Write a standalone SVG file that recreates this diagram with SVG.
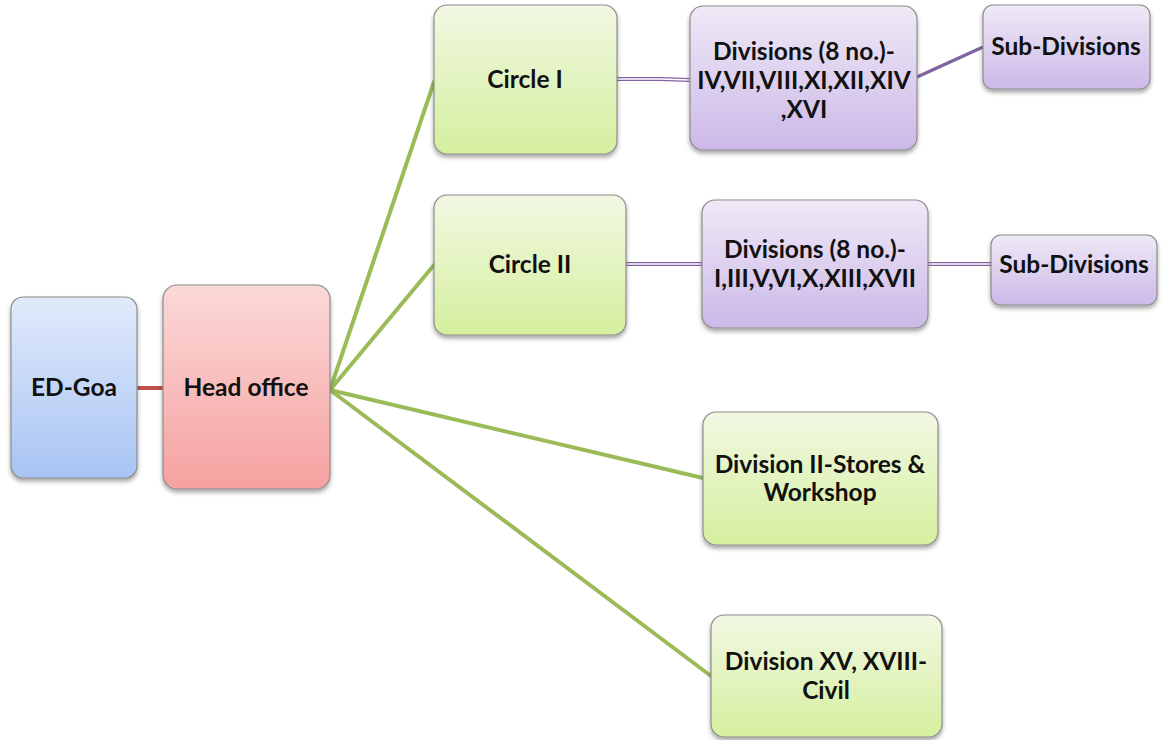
<svg xmlns="http://www.w3.org/2000/svg" width="1164" height="740" viewBox="0 0 1164 740">
  <style>
    .box { stroke: #8c8c8c; stroke-width: 1.2; filter: url(#shadow); }
    .lbl { font-family: Lato, "Liberation Sans", sans-serif; font-weight: bold; font-size: 24.5px; fill: #111; text-anchor: middle; }
    .green-link { stroke: #9bbb59; stroke-width: 4; fill: none; stroke-linecap: round; }
    .red-link { stroke: #c0504d; stroke-width: 4; fill: none; }
    .purple-link { stroke: #8064a2; stroke-width: 3.5; fill: none; }
    .dbl-outer { stroke: #8064a2; stroke-width: 4; fill: none; }
    .dbl-inner { stroke: #ffffff; stroke-width: 1.6; fill: none; }
  </style>
  <defs>
    <filter id="shadow" x="-10%" y="-10%" width="120%" height="125%">
      <feDropShadow dx="0" dy="3" stdDeviation="2" flood-color="#000" flood-opacity="0.35"/>
    </filter>
    <linearGradient id="gBlue" x1="0" y1="0" x2="0" y2="1">
      <stop offset="0" stop-color="#e1eafb"/>
      <stop offset="1" stop-color="#a8c4f4"/>
    </linearGradient>
    <linearGradient id="gRed" x1="0" y1="0" x2="0" y2="1">
      <stop offset="0" stop-color="#fbd9d8"/>
      <stop offset="1" stop-color="#f5a1a0"/>
    </linearGradient>
    <linearGradient id="gGreen" x1="0" y1="0" x2="0" y2="1">
      <stop offset="0" stop-color="#f2f8e3"/>
      <stop offset="1" stop-color="#d5ef9e"/>
    </linearGradient>
    <linearGradient id="gPurple" x1="0" y1="0" x2="0" y2="1">
      <stop offset="0" stop-color="#efe9f6"/>
      <stop offset="1" stop-color="#ccb9e8"/>
    </linearGradient>
  </defs>

  <rect width="1164" height="740" fill="#ffffff"/>

  <!-- connectors -->
  <g id="connectors">
    <line class="red-link" x1="136" y1="388" x2="164" y2="388"/>
    <line class="green-link" x1="330" y1="390" x2="434" y2="82"/>
    <line class="green-link" x1="330" y1="390" x2="434" y2="265"/>
    <line class="green-link" x1="330" y1="390" x2="703" y2="478"/>
    <line class="green-link" x1="330" y1="390" x2="711" y2="676"/>
    <polyline class="dbl-outer" points="617,79 660,79 690,80"/>
    <polyline class="dbl-inner" points="617,79 660,79 690,80"/>
    <line class="purple-link" x1="917" y1="77" x2="983" y2="47"/>
    <line class="dbl-outer" x1="626" y1="264" x2="702" y2="264"/>
    <line class="dbl-inner" x1="626" y1="264" x2="702" y2="264"/>
    <line class="dbl-outer" x1="928" y1="264" x2="991" y2="264"/>
    <line class="dbl-inner" x1="928" y1="264" x2="991" y2="264"/>
  </g>

  <g id="ed-goa">
    <rect class="box" x="11" y="297" width="126" height="181" rx="12" fill="url(#gBlue)"/>
    <text class="lbl" x="74" y="396">ED-Goa</text>
  </g>

  <g id="head-office">
    <rect class="box" x="163" y="285" width="167" height="204" rx="14" fill="url(#gRed)"/>
    <text class="lbl" x="246" y="396">Head office</text>
  </g>

  <g id="circle-1">
    <rect class="box" x="434" y="5" width="183" height="149" rx="13" fill="url(#gGreen)"/>
    <text class="lbl" x="525" y="88">Circle I</text>
  </g>

  <g id="circle-2">
    <rect class="box" x="434" y="195" width="192" height="140" rx="13" fill="url(#gGreen)"/>
    <text class="lbl" x="530" y="273">Circle II</text>
  </g>

  <g id="divisions-1">
    <rect class="box" x="690" y="6" width="227" height="144" rx="13" fill="url(#gPurple)"/>
    <text class="lbl" x="804" y="60">Divisions (8 no.)-</text>
    <text class="lbl" x="804" y="89">IV,VII,VIII,XI,XII,XIV</text>
    <text class="lbl" x="804" y="118">,XVI</text>
  </g>

  <g id="sub-divisions-1">
    <rect class="box" x="983" y="5" width="167" height="84" rx="10" fill="url(#gPurple)"/>
    <text class="lbl" x="1066" y="55">Sub-Divisions</text>
  </g>

  <g id="divisions-2">
    <rect class="box" x="702" y="200" width="226" height="128" rx="13" fill="url(#gPurple)"/>
    <text class="lbl" x="815" y="258">Divisions (8 no.)-</text>
    <text class="lbl" x="815" y="287">I,III,V,VI,X,XIII,XVII</text>
  </g>

  <g id="sub-divisions-2">
    <rect class="box" x="991" y="235" width="166" height="70" rx="10" fill="url(#gPurple)"/>
    <text class="lbl" x="1074" y="273">Sub-Divisions</text>
  </g>

  <g id="division-2-stores">
    <rect class="box" x="703" y="412" width="235" height="133" rx="13" fill="url(#gGreen)"/>
    <text class="lbl" x="820" y="473">Division II-Stores &amp;</text>
    <text class="lbl" x="820" y="501">Workshop</text>
  </g>

  <g id="division-15-18">
    <rect class="box" x="711" y="615" width="231" height="122" rx="13" fill="url(#gGreen)"/>
    <text class="lbl" x="826" y="670">Division XV, XVIII-</text>
    <text class="lbl" x="826" y="699">Civil</text>
  </g>
</svg>
